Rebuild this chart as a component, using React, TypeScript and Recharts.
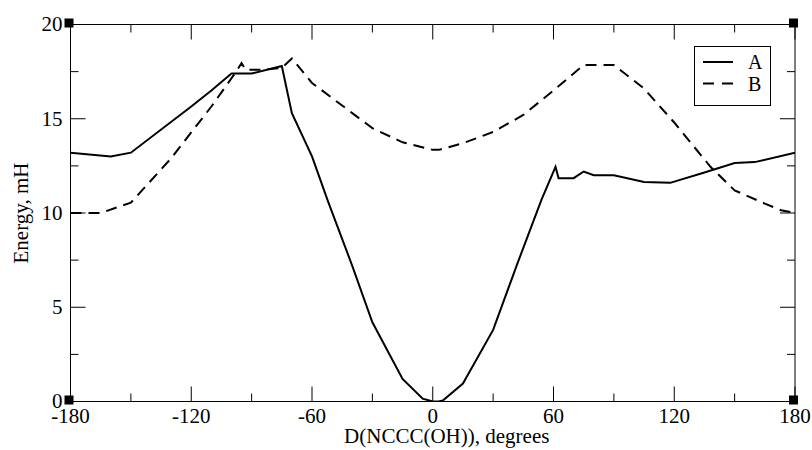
import React from 'react';
import { LineChart, Line, XAxis, YAxis, ReferenceArea, ReferenceDot } from 'recharts';

// Dihedral scan, energies in mH
const anglesA = [-180, -160, -150, -120, -110, -100, -90, -75, -70, -60, -52, -40, -30, -15, -5, 0, 3, 5, 15, 30, 42, 54, 61, 62.5, 70, 75, 80, 90, 105, 118, 135, 150, 160, 180];
const energyA = [13.2, 13.0, 13.2, 15.65, 16.5, 17.4, 17.4, 17.8, 15.3, 13.0, 10.6, 7.2, 4.2, 1.2, 0.15, 0, 0, 0.05, 0.95, 3.8, 7.3, 10.7, 12.45, 11.85, 11.85, 12.2, 12.0, 12.0, 11.65, 11.6, 12.15, 12.65, 12.7, 13.2];

const anglesB = [-180, -165, -150, -130, -110, -98, -95, -93, -85, -75, -70, -60, -40, -30, -15, 0, 3, 15, 30, 45, 60, 75, 90, 105, 120, 138, 150, 165, 173, 180];
const energyB = [10.0, 10.0, 10.55, 12.9, 15.65, 17.45, 17.95, 17.6, 17.6, 17.7, 18.2, 16.9, 15.3, 14.5, 13.75, 13.35, 13.35, 13.7, 14.3, 15.2, 16.5, 17.85, 17.85, 16.6, 14.8, 12.45, 11.2, 10.5, 10.15, 10.0];

const xTicks = [-180, -150, -120, -90, -60, -30, 0, 30, 60, 90, 120, 150, 180];
const yTicks = [0, 2.5, 5, 7.5, 10, 12.5, 15, 17.5, 20];
const corners = [[-180, 0], [-180, 20], [180, 0], [180, 20]];

const seriesA = anglesA.map((x, i) => ({ x, y: energyA[i] }));
const seriesB = anglesB.map((x, i) => ({ x, y: energyB[i] }));

const W = 812;
const H = 450;
const M = { top: 24.5, right: 17, bottom: 18.5, left: 0 };
const Y_W = 70.5;
const X_H = 30;
const PLOT_W = W - M.left - M.right - Y_W;
const PLOT_H = H - M.top - M.bottom - X_H;
const FONT = '"Liberation Serif", Tinos, "Times New Roman", Times, "DejaVu Serif", serif';
const txt = { fontFamily: FONT, fill: '#000' };

const XTick = (props: any) => {
  const { x, y, payload } = props;
  const major = payload.value % 60 === 0;
  const len = major ? 15 : 8;
  return (
    <g>
      <line x1={x} y1={y} x2={x} y2={y - len} stroke="#000" />
      <line x1={x} y1={y - PLOT_H} x2={x} y2={y - PLOT_H + len} stroke="#000" />
      {major && (
        <text x={x} y={y + 21.5} textAnchor="middle" fill="#000" style={{ ...txt, fontSize: 21 }}>
          {payload.value}
        </text>
      )}
    </g>
  );
};

const YTick = (props: any) => {
  const { x, y, payload } = props;
  const major = payload.value % 5 === 0;
  const len = major ? 15 : 8;
  return (
    <g>
      <line x1={x} y1={y} x2={x + len} y2={y} stroke="#000" />
      <line x1={x + PLOT_W} y1={y} x2={x + PLOT_W - len} y2={y} stroke="#000" />
      {major && (
        <text x={x - 8} y={y} dy="0.33em" textAnchor="end" fill="#000" style={{ ...txt, fontSize: 21 }}>
          {payload.value}
        </text>
      )}
    </g>
  );
};

const Handle = (props: any) => {
  const { cx, cy } = props;
  return <rect x={cx - 6} y={cy - 6} width={9} height={9} fill="#000" />;
};

const LegendBox = () => (
  <div style={{ position: 'absolute', left: 694, top: 46, width: 77, height: 60 }}>
    <svg width={77} height={60}>
      <rect x={0.5} y={0.5} width={76} height={59} fill="#fff" stroke="#000" />
      <line x1={9} y1={16} x2={39} y2={16} stroke="#000" strokeWidth={2} />
      <line x1={9} y1={37.5} x2={39} y2={37.5} stroke="#000" strokeWidth={2} strokeDasharray="11 8" />
      <text x={54} y={23} fill="#000" style={{ ...txt, fontSize: 20 }}>A</text>
      <text x={54} y={45} fill="#000" style={{ ...txt, fontSize: 20 }}>B</text>
    </svg>
  </div>
);

export default function App() {
  return (
    <div style={{ position: 'absolute', left: 0, top: 0, width: W, height: H, background: '#fff', fontFamily: FONT }}>
      <LineChart width={W} height={H} margin={M} style={{ fontFamily: FONT }}>
        <XAxis
          dataKey="x"
          type="number"
          domain={[-180, 180]}
          ticks={xTicks}
          interval={0}
          allowDataOverflow
          height={X_H}
          axisLine={false}
          tickLine={false}
          tickSize={0}
          tickMargin={0}
          tick={<XTick />}
          label={({ viewBox }: any) => (
            <text
              x={viewBox.x + viewBox.width / 2 + 14}
              y={viewBox.y + 41}
              textAnchor="middle"
              fill="#000"
              style={{ ...txt, fontSize: 21 }}
            >
              D(NCCC(OH)), degrees
            </text>
          )}
        />
        <YAxis
          type="number"
          domain={[0, 20]}
          ticks={yTicks}
          interval={0}
          allowDataOverflow
          width={Y_W}
          axisLine={false}
          tickLine={false}
          tickSize={0}
          tickMargin={0}
          tick={<YTick />}
          label={({ viewBox }: any) => {
            const cx = 21;
            const cy = viewBox.y + viewBox.height / 2;
            return (
              <text
                x={cx}
                y={cy}
                dy="0.33em"
                transform={`rotate(-90 ${cx} ${cy})`}
                textAnchor="middle"
                fill="#000"
                style={{ ...txt, fontSize: 21 }}
              >
                Energy, mH
              </text>
            );
          }}
        />
        <ReferenceArea x1={-180} x2={180} y1={0} y2={20} fill="none" stroke="#000" strokeWidth={1} ifOverflow="visible" />
        <Line
          data={seriesA}
          dataKey="y"
          type="linear"
          stroke="#000"
          strokeWidth={2}
          dot={false}
          activeDot={false}
          isAnimationActive={false}
        />
        <Line
          data={seriesB}
          dataKey="y"
          type="linear"
          stroke="#000"
          strokeWidth={2}
          strokeDasharray="11 7"
          dot={false}
          activeDot={false}
          isAnimationActive={false}
        />
        {corners.map(([cx, cy], i) => (
          <ReferenceDot key={i} x={cx} y={cy} r={4} ifOverflow="visible" shape={<Handle />} />
        ))}
      </LineChart>
      <LegendBox />
    </div>
  );
}
